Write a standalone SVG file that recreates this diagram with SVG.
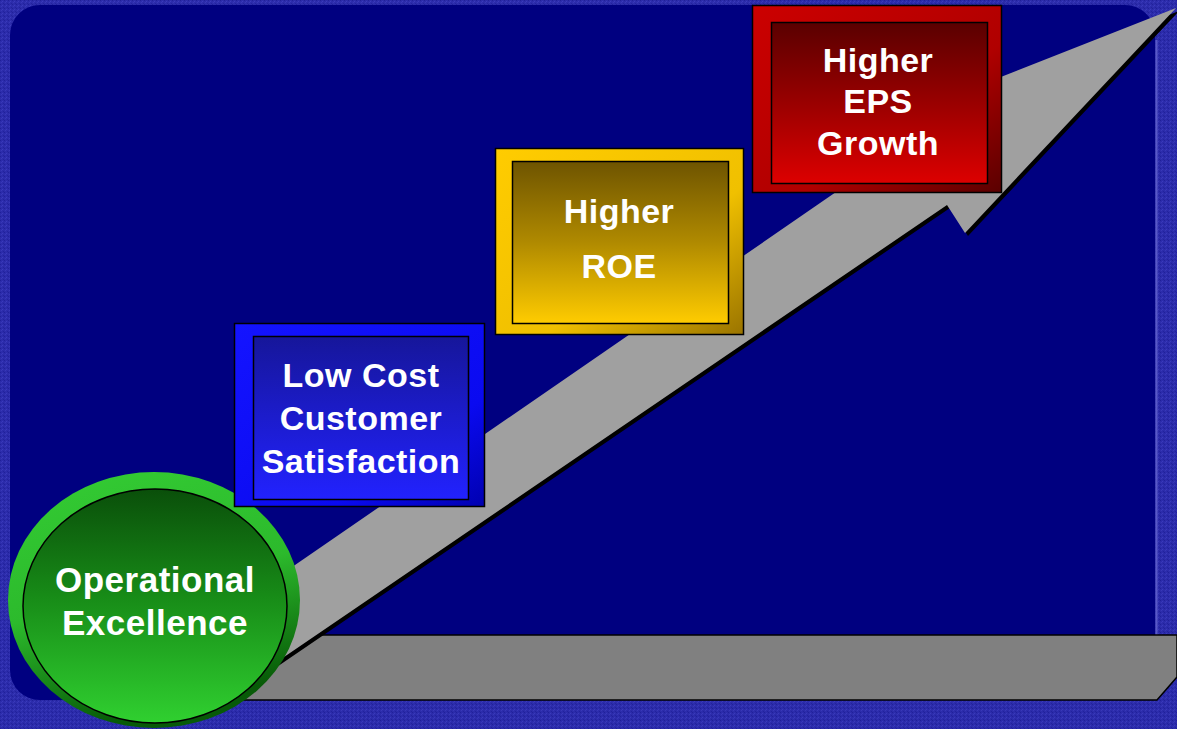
<svg xmlns="http://www.w3.org/2000/svg" width="1177" height="729" viewBox="0 0 1177 729">
  <defs>
    <!-- grainy frame fill -->
    <pattern id="grain" width="4" height="4" patternUnits="userSpaceOnUse">
      <rect width="4" height="4" fill="#2c2cab"/>
      <rect x="0" y="0" width="1" height="1" fill="#20209a"/>
      <rect x="2" y="1" width="1" height="1" fill="#3a3abc"/>
      <rect x="1" y="2" width="1" height="1" fill="#3838b8"/>
      <rect x="3" y="3" width="1" height="1" fill="#22229e"/>
    </pattern>

    <linearGradient id="ringGreen" x1="0" y1="0" x2="0.3" y2="1">
      <stop offset="0" stop-color="#34cc34"/>
      <stop offset="0.55" stop-color="#2cba2c"/>
      <stop offset="1" stop-color="#075a07"/>
    </linearGradient>
    <linearGradient id="coreGreen" x1="0" y1="0" x2="0" y2="1">
      <stop offset="0" stop-color="#0a4f0a"/>
      <stop offset="0.45" stop-color="#178a17"/>
      <stop offset="1" stop-color="#30d030"/>
    </linearGradient>

    <linearGradient id="frameBlue" x1="0" y1="0" x2="1" y2="1">
      <stop offset="0" stop-color="#1414ff"/>
      <stop offset="0.7" stop-color="#0a0af0"/>
      <stop offset="1" stop-color="#0000b0"/>
    </linearGradient>
    <linearGradient id="coreBlue" x1="0" y1="0" x2="0" y2="1">
      <stop offset="0" stop-color="#16169a"/>
      <stop offset="1" stop-color="#2222ff"/>
    </linearGradient>

    <linearGradient id="frameGold" x1="0" y1="0" x2="1" y2="1">
      <stop offset="0" stop-color="#ffcc00"/>
      <stop offset="0.6" stop-color="#f0c000"/>
      <stop offset="1" stop-color="#9a7400"/>
    </linearGradient>
    <linearGradient id="coreGold" x1="0" y1="0" x2="0" y2="1">
      <stop offset="0" stop-color="#6e5400"/>
      <stop offset="0.5" stop-color="#b08a00"/>
      <stop offset="1" stop-color="#ffcc00"/>
    </linearGradient>

    <linearGradient id="frameRed" x1="0" y1="0" x2="1" y2="1">
      <stop offset="0" stop-color="#cc0000"/>
      <stop offset="0.6" stop-color="#b00000"/>
      <stop offset="1" stop-color="#5a0000"/>
    </linearGradient>
    <linearGradient id="coreRed" x1="0" y1="0" x2="0" y2="1">
      <stop offset="0" stop-color="#5a0000"/>
      <stop offset="0.55" stop-color="#a00000"/>
      <stop offset="1" stop-color="#dd0000"/>
    </linearGradient>

    <style>
      .label { font-family: "Liberation Sans", Arial, sans-serif; font-weight: bold; font-size: 34px; fill: #ffffff; text-anchor: middle; letter-spacing: 0.5px; }
      .big { font-size: 35px; }
      .thin { stroke: #000000; stroke-width: 1.5; }
    </style>
  </defs>

  <!-- frame and board -->
  <rect x="0" y="0" width="1177" height="729" fill="url(#grain)"/>
  <rect x="10" y="5" width="1145" height="695" rx="30" ry="30" fill="#000080"/>
  <line x1="1156.5" y1="40" x2="1156.5" y2="635" stroke="#5858c8" stroke-width="2"/>

  <g id="connectors">
    <!-- floor bar -->
    <polygon points="220,700 300,635 1177,635 1177,677 1157,700" fill="#808080" class="thin"/>
    <!-- rising arrow: dark shadow then body -->
    <polygon points="243,606 958,113 958,98 1179,11 968,236 950,208 243,690" fill="#000000"/>
    <polygon points="240,603 955,110 955,95 1176,8 965,233 947,205 240,687" fill="#a0a0a0"/>
  </g>

  <g id="node-operational-excellence">
    <ellipse cx="154" cy="600" rx="146" ry="128" fill="url(#ringGreen)"/>
    <ellipse cx="155" cy="606" rx="132" ry="117" fill="url(#coreGreen)" class="thin"/>
    <text class="label big" x="155" y="592">Operational</text>
    <text class="label big" x="155" y="635">Excellence</text>
  </g>

  <g id="node-low-cost">
    <rect x="234.5" y="323.5" width="250" height="183" fill="url(#frameBlue)" class="thin"/>
    <rect x="253.5" y="336.5" width="215" height="163" fill="url(#coreBlue)" class="thin"/>
    <text class="label" x="361" y="387">Low Cost</text>
    <text class="label" x="361" y="430">Customer</text>
    <text class="label" x="361" y="473">Satisfaction</text>
  </g>

  <g id="node-roe">
    <rect x="495.5" y="148.5" width="248" height="186" fill="url(#frameGold)" class="thin"/>
    <rect x="512.5" y="161.5" width="216" height="162" fill="url(#coreGold)" class="thin"/>
    <text class="label" x="619" y="223">Higher</text>
    <text class="label" x="619" y="278">ROE</text>
  </g>

  <g id="node-eps">
    <rect x="752.5" y="5.5" width="249" height="187" fill="url(#frameRed)" class="thin"/>
    <rect x="771.5" y="22.5" width="216" height="161" fill="url(#coreRed)" class="thin"/>
    <text class="label" x="878" y="72">Higher</text>
    <text class="label" x="878" y="113">EPS</text>
    <text class="label" x="878" y="155">Growth</text>
  </g>
</svg>
